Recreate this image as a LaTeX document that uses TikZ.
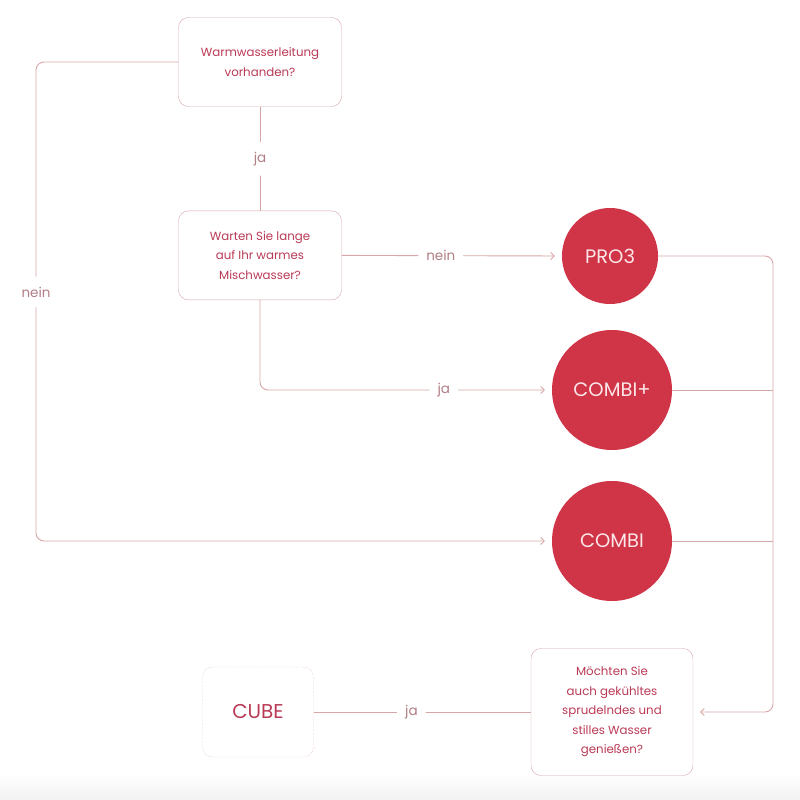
\documentclass[tikz,border=0pt]{standalone}
\usepackage{fontspec}
\setmainfont{Poppins}
\usetikzlibrary{shapes,arrows.meta,positioning}

\definecolor{textred}{HTML}{BA3A55}
\definecolor{circred}{HTML}{CF3447}
\definecolor{circtext}{HTML}{FCE6E8}
\definecolor{boxline}{HTML}{D6A6A8}
\definecolor{answertext}{HTML}{B07E85}

\tikzset{
    question/.style={draw=boxline, rectangle, rounded corners=10pt, fill=white, text=textred,
        minimum width=163pt, minimum height=89pt, align=center, font=\fontsize{11.8}{19.5}\selectfont},
    product/.style={circle, fill=circred, text=circtext, inner sep=0pt, font=\fontsize{19.5}{22}\selectfont},
    link/.style={draw=boxline, line width=0.9pt, rounded corners=8pt},
    tip/.style={-{Straight Barb[length=3.5pt,width=7pt]}, shorten >=7pt},
    answer/.style={fill=white, text=answertext, inner xsep=8pt, inner ysep=10pt, font=\fontsize{13.5}{15}\selectfont}
}

\begin{document}
\begin{tikzpicture}[x=1pt, y=-1pt]
        \useasboundingbox (0,0) rectangle (800,800);
        % faint strip at the bottom
        \shade[top color=white, bottom color=black!5] (0,772) rectangle (800,800);

        % Questions
        \node[question] (warm) at (260,62) {Warmwasserleitung\\vorhanden?};
        \node[question, below=104pt of warm] (wait) {Warten Sie lange\\auf Ihr warmes\\Mischwasser?};
        \node[question, minimum width=162pt, minimum height=127pt] (sparkle) at (612,712) {M\"ochten Sie\\auch gek\"uhltes\\sprudelndes und\\stilles Wasser\\genie\ss en?};

        % Products
        \node[product, minimum size=96pt] (pro3) at (610,256) {PRO3};
        \node[product, minimum size=120pt] (combiplus) at (612,390) {COMBI+};
        \node[product, minimum size=120pt] (combi) at (612,541) {COMBI};
        \node[draw=boxline, densely dotted, rectangle, rounded corners=10pt, fill=white, text=textred,
            minimum width=111pt, minimum height=90pt, font=\fontsize{20}{22}\selectfont] (cube) at (258,712) {CUBE};

        % Rails
        \coordinate (leftrail) at (36,0);
        \coordinate (rightrail) at (773,0);

        % Arrows
        \draw[link] (warm) -- node[answer] {ja} (wait);
        \draw[link, tip] (warm.west) -- (warm.west -| leftrail) |- node[answer, pos=0.24] {nein} (combi.west);
        \draw[link, tip] (wait.east) -- node[answer, pos=0.45] {nein} (pro3.west);
        \draw[link, tip] (wait.south) |- node[answer, pos=0.815] {ja} (combiplus.west);

        \draw[link, tip] (pro3.east) -- (pro3.east -| rightrail) |- (sparkle.east);
        \draw[link] (combiplus.east) -- (combiplus.east -| rightrail);
        \draw[link] (combi.east) -- (combi.east -| rightrail);

        \draw[link] (cube.east) -- node[answer, pos=0.45] {ja} (sparkle.west);
    \end{tikzpicture}
\end{document}
